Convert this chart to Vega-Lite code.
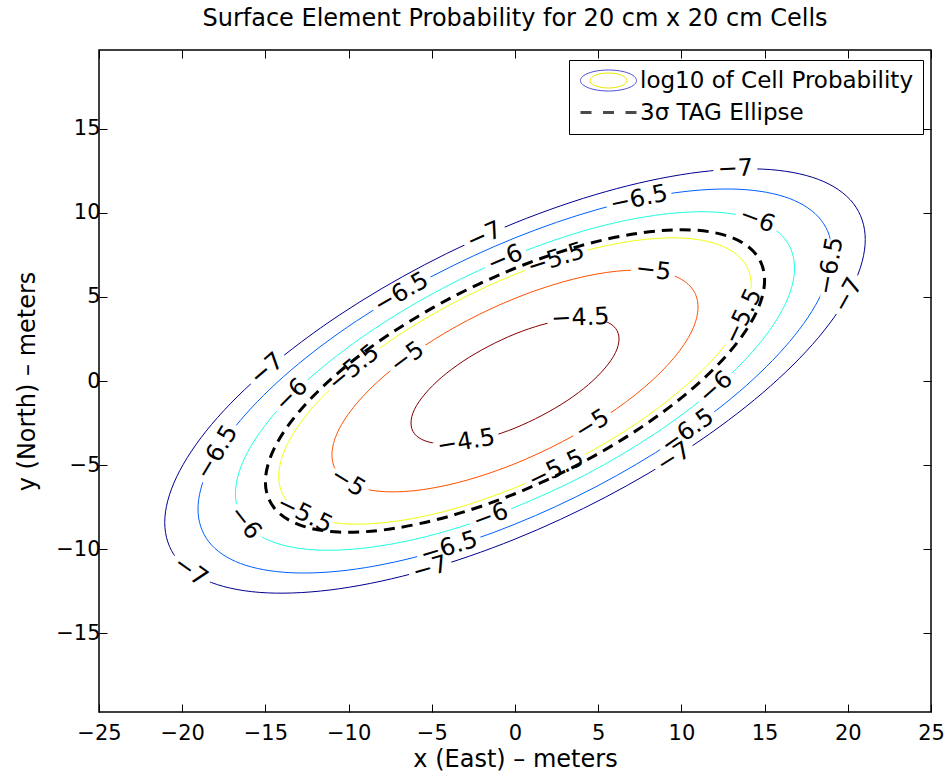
{
  "$schema": "https://vega.github.io/schema/vega-lite/v6.json",
  "width": 832,
  "height": 662,
  "autosize": {"type": "none"},
  "padding": {"left": 99, "top": 50, "right": 19, "bottom": 60},
  "background": "white",
  "config": {
    "font": "DejaVu Sans",
    "view": {"stroke": "#000", "strokeWidth": 1.5},
    "axis": {"grid": false, "domain": false, "tickColor": "#000", "tickWidth": 1, "labelFont": "DejaVu Sans", "labelFontSize": 21, "labelColor": "#000", "titleFont": "DejaVu Sans", "titleFontSize": 24, "titleFontWeight": "normal", "titleColor": "#000", "labelFlush": false, "labelOverlap": false},
    "legend": {"labelFont": "DejaVu Sans", "labelFontSize": 23, "labelColor": "#000"}
  },
  "title": {"text": "Surface Element Probability for 20 cm x 20 cm Cells", "font": "DejaVu Sans", "fontSize": 24, "fontWeight": "normal", "color": "#000", "frame": "group", "anchor": "middle", "baseline": "bottom", "offset": -5},
  "datasets": {
    "contours": [
      {"lvl":-7,"i":0,"x":21.05,"y":8.42},{"lvl":-7,"i":1,"x":20.33,"y":10.57},{"lvl":-7,"i":2,"x":18.23,"y":12.0},{"lvl":-7,"i":3,"x":14.89,"y":12.61},{"lvl":-7,"i":4,"x":10.53,"y":12.36},{"lvl":-7,"i":5,"x":5.45,"y":11.27},{"lvl":-7,"i":6,"x":0,"y":9.41},{"lvl":-7,"i":7,"x":-5.45,"y":6.91},{"lvl":-7,"i":8,"x":-10.53,"y":3.94},{"lvl":-7,"i":9,"x":-14.89,"y":0.7},{"lvl":-7,"i":10,"x":-18.23,"y":-2.58},{"lvl":-7,"i":11,"x":-20.33,"y":-5.7},{"lvl":-7,"i":12,"x":-21.05,"y":-8.42},{"lvl":-7,"i":13,"x":-20.33,"y":-10.57},{"lvl":-7,"i":14,"x":-18.23,"y":-12.0},{"lvl":-7,"i":15,"x":-14.89,"y":-12.61},{"lvl":-7,"i":16,"x":-10.53,"y":-12.36},{"lvl":-7,"i":17,"x":-5.45,"y":-11.27},{"lvl":-7,"i":18,"x":0,"y":-9.41},{"lvl":-7,"i":19,"x":5.45,"y":-6.91},{"lvl":-7,"i":20,"x":10.53,"y":-3.94},{"lvl":-7,"i":21,"x":14.89,"y":-0.7},{"lvl":-7,"i":22,"x":18.23,"y":2.58},{"lvl":-7,"i":23,"x":20.33,"y":5.7},
      {"lvl":-6.5,"i":0,"x":19.05,"y":7.62},{"lvl":-6.5,"i":1,"x":18.4,"y":9.57},{"lvl":-6.5,"i":2,"x":16.5,"y":10.86},{"lvl":-6.5,"i":3,"x":13.47,"y":11.41},{"lvl":-6.5,"i":4,"x":9.53,"y":11.19},{"lvl":-6.5,"i":5,"x":4.93,"y":10.2},{"lvl":-6.5,"i":6,"x":0,"y":8.52},{"lvl":-6.5,"i":7,"x":-4.93,"y":6.26},{"lvl":-6.5,"i":8,"x":-9.53,"y":3.57},{"lvl":-6.5,"i":9,"x":-13.47,"y":0.64},{"lvl":-6.5,"i":10,"x":-16.5,"y":-2.34},{"lvl":-6.5,"i":11,"x":-18.4,"y":-5.15},{"lvl":-6.5,"i":12,"x":-19.05,"y":-7.62},{"lvl":-6.5,"i":13,"x":-18.4,"y":-9.57},{"lvl":-6.5,"i":14,"x":-16.5,"y":-10.86},{"lvl":-6.5,"i":15,"x":-13.47,"y":-11.41},{"lvl":-6.5,"i":16,"x":-9.53,"y":-11.19},{"lvl":-6.5,"i":17,"x":-4.93,"y":-10.2},{"lvl":-6.5,"i":18,"x":0,"y":-8.52},{"lvl":-6.5,"i":19,"x":4.93,"y":-6.26},{"lvl":-6.5,"i":20,"x":9.53,"y":-3.57},{"lvl":-6.5,"i":21,"x":13.47,"y":-0.64},{"lvl":-6.5,"i":22,"x":16.5,"y":2.34},{"lvl":-6.5,"i":23,"x":18.4,"y":5.15},
      {"lvl":-6,"i":0,"x":16.8,"y":6.72},{"lvl":-6,"i":1,"x":16.23,"y":8.44},{"lvl":-6,"i":2,"x":14.55,"y":9.58},{"lvl":-6,"i":3,"x":11.88,"y":10.06},{"lvl":-6,"i":4,"x":8.4,"y":9.86},{"lvl":-6,"i":5,"x":4.35,"y":9.0},{"lvl":-6,"i":6,"x":0,"y":7.51},{"lvl":-6,"i":7,"x":-4.35,"y":5.52},{"lvl":-6,"i":8,"x":-8.4,"y":3.14},{"lvl":-6,"i":9,"x":-11.88,"y":0.56},{"lvl":-6,"i":10,"x":-14.55,"y":-2.06},{"lvl":-6,"i":11,"x":-16.23,"y":-4.55},{"lvl":-6,"i":12,"x":-16.8,"y":-6.72},{"lvl":-6,"i":13,"x":-16.23,"y":-8.44},{"lvl":-6,"i":14,"x":-14.55,"y":-9.58},{"lvl":-6,"i":15,"x":-11.88,"y":-10.06},{"lvl":-6,"i":16,"x":-8.4,"y":-9.86},{"lvl":-6,"i":17,"x":-4.35,"y":-9.0},{"lvl":-6,"i":18,"x":0,"y":-7.51},{"lvl":-6,"i":19,"x":4.35,"y":-5.52},{"lvl":-6,"i":20,"x":8.4,"y":-3.14},{"lvl":-6,"i":21,"x":11.88,"y":-0.56},{"lvl":-6,"i":22,"x":14.55,"y":2.06},{"lvl":-6,"i":23,"x":16.23,"y":4.55},
      {"lvl":-5.5,"i":0,"x":14.2,"y":5.68},{"lvl":-5.5,"i":1,"x":13.72,"y":7.13},{"lvl":-5.5,"i":2,"x":12.3,"y":8.09},{"lvl":-5.5,"i":3,"x":10.04,"y":8.51},{"lvl":-5.5,"i":4,"x":7.1,"y":8.34},{"lvl":-5.5,"i":5,"x":3.67,"y":7.61},{"lvl":-5.5,"i":6,"x":0,"y":6.35},{"lvl":-5.5,"i":7,"x":-3.67,"y":4.66},{"lvl":-5.5,"i":8,"x":-7.1,"y":2.66},{"lvl":-5.5,"i":9,"x":-10.04,"y":0.47},{"lvl":-5.5,"i":10,"x":-12.3,"y":-1.74},{"lvl":-5.5,"i":11,"x":-13.72,"y":-3.84},{"lvl":-5.5,"i":12,"x":-14.2,"y":-5.68},{"lvl":-5.5,"i":13,"x":-13.72,"y":-7.13},{"lvl":-5.5,"i":14,"x":-12.3,"y":-8.09},{"lvl":-5.5,"i":15,"x":-10.04,"y":-8.51},{"lvl":-5.5,"i":16,"x":-7.1,"y":-8.34},{"lvl":-5.5,"i":17,"x":-3.67,"y":-7.61},{"lvl":-5.5,"i":18,"x":0,"y":-6.35},{"lvl":-5.5,"i":19,"x":3.67,"y":-4.66},{"lvl":-5.5,"i":20,"x":7.1,"y":-2.66},{"lvl":-5.5,"i":21,"x":10.04,"y":-0.47},{"lvl":-5.5,"i":22,"x":12.3,"y":1.74},{"lvl":-5.5,"i":23,"x":13.72,"y":3.84},
      {"lvl":-5,"i":0,"x":11.0,"y":4.4},{"lvl":-5,"i":1,"x":10.63,"y":5.52},{"lvl":-5,"i":2,"x":9.53,"y":6.27},{"lvl":-5,"i":3,"x":7.78,"y":6.59},{"lvl":-5,"i":4,"x":5.5,"y":6.46},{"lvl":-5,"i":5,"x":2.85,"y":5.89},{"lvl":-5,"i":6,"x":0,"y":4.92},{"lvl":-5,"i":7,"x":-2.85,"y":3.61},{"lvl":-5,"i":8,"x":-5.5,"y":2.06},{"lvl":-5,"i":9,"x":-7.78,"y":0.37},{"lvl":-5,"i":10,"x":-9.53,"y":-1.35},{"lvl":-5,"i":11,"x":-10.63,"y":-2.98},{"lvl":-5,"i":12,"x":-11.0,"y":-4.4},{"lvl":-5,"i":13,"x":-10.63,"y":-5.52},{"lvl":-5,"i":14,"x":-9.53,"y":-6.27},{"lvl":-5,"i":15,"x":-7.78,"y":-6.59},{"lvl":-5,"i":16,"x":-5.5,"y":-6.46},{"lvl":-5,"i":17,"x":-2.85,"y":-5.89},{"lvl":-5,"i":18,"x":0,"y":-4.92},{"lvl":-5,"i":19,"x":2.85,"y":-3.61},{"lvl":-5,"i":20,"x":5.5,"y":-2.06},{"lvl":-5,"i":21,"x":7.78,"y":-0.37},{"lvl":-5,"i":22,"x":9.53,"y":1.35},{"lvl":-5,"i":23,"x":10.63,"y":2.98},
      {"lvl":-4.5,"i":0,"x":6.25,"y":2.5},{"lvl":-4.5,"i":1,"x":6.04,"y":3.14},{"lvl":-4.5,"i":2,"x":5.41,"y":3.56},{"lvl":-4.5,"i":3,"x":4.42,"y":3.74},{"lvl":-4.5,"i":4,"x":3.13,"y":3.67},{"lvl":-4.5,"i":5,"x":1.62,"y":3.35},{"lvl":-4.5,"i":6,"x":0,"y":2.8},{"lvl":-4.5,"i":7,"x":-1.62,"y":2.05},{"lvl":-4.5,"i":8,"x":-3.13,"y":1.17},{"lvl":-4.5,"i":9,"x":-4.42,"y":0.21},{"lvl":-4.5,"i":10,"x":-5.41,"y":-0.77},{"lvl":-4.5,"i":11,"x":-6.04,"y":-1.69},{"lvl":-4.5,"i":12,"x":-6.25,"y":-2.5},{"lvl":-4.5,"i":13,"x":-6.04,"y":-3.14},{"lvl":-4.5,"i":14,"x":-5.41,"y":-3.56},{"lvl":-4.5,"i":15,"x":-4.42,"y":-3.74},{"lvl":-4.5,"i":16,"x":-3.13,"y":-3.67},{"lvl":-4.5,"i":17,"x":-1.62,"y":-3.35},{"lvl":-4.5,"i":18,"x":0,"y":-2.8},{"lvl":-4.5,"i":19,"x":1.62,"y":-2.05},{"lvl":-4.5,"i":20,"x":3.13,"y":-1.17},{"lvl":-4.5,"i":21,"x":4.42,"y":-0.21},{"lvl":-4.5,"i":22,"x":5.41,"y":0.77},{"lvl":-4.5,"i":23,"x":6.04,"y":1.69}
    ],
    "tag": [
      {"i":0,"x":15.0,"y":6.0},{"i":1,"x":14.49,"y":7.53},{"i":2,"x":12.99,"y":8.55},{"i":3,"x":10.61,"y":8.99},{"i":4,"x":7.5,"y":8.81},{"i":5,"x":3.88,"y":8.03},{"i":6,"x":0,"y":6.71},{"i":7,"x":-3.88,"y":4.93},{"i":8,"x":-7.5,"y":2.81},{"i":9,"x":-10.61,"y":0.5},{"i":10,"x":-12.99,"y":-1.84},{"i":11,"x":-14.49,"y":-4.06},{"i":12,"x":-15.0,"y":-6.0},{"i":13,"x":-14.49,"y":-7.53},{"i":14,"x":-12.99,"y":-8.55},{"i":15,"x":-10.61,"y":-8.99},{"i":16,"x":-7.5,"y":-8.81},{"i":17,"x":-3.88,"y":-8.03},{"i":18,"x":0,"y":-6.71},{"i":19,"x":3.88,"y":-4.93},{"i":20,"x":7.5,"y":-2.81},{"i":21,"x":10.61,"y":-0.5},{"i":22,"x":12.99,"y":1.84},{"i":23,"x":14.49,"y":4.06}
    ],
    "labels": [
      {"lab":"−7","x":13.24,"y":12.61,"ang":-2.2},
      {"lab":"−7","x":-1.84,"y":8.64,"ang":-23.9},
      {"lab":"−7","x":-14.89,"y":0.7,"ang":-40.5},
      {"lab":"−7","x":20.02,"y":5.1,"ang":-60.9},
      {"lab":"−7","x":9.56,"y":-4.56,"ang":-32.4},
      {"lab":"−7","x":-5.09,"y":-11.17,"ang":-16.2},
      {"lab":"−7","x":-19.51,"y":-11.33,"ang":35.4},
      {"lab":"−6.5","x":7.45,"y":10.82,"ang":-12.0},
      {"lab":"−6.5","x":-6.82,"y":5.23,"ang":-30.0},
      {"lab":"−6.5","x":18.97,"y":6.85,"ang":-79.8},
      {"lab":"−6.5","x":10.38,"y":-2.99,"ang":-34.9},
      {"lab":"−6.5","x":-3.96,"y":-9.92,"ang":-17.1},
      {"lab":"−6.5","x":-17.9,"y":-4.25,"ang":-58.7},
      {"lab":"−6","x":14.55,"y":9.58,"ang":20.7},
      {"lab":"−6","x":-13.42,"y":-0.85,"ang":-45.1},
      {"lab":"−6","x":12.08,"y":-0.39,"ang":-41.1},
      {"lab":"−6","x":-1.46,"y":-8.07,"ang":-20.0},
      {"lab":"−6","x":-16.23,"y":-8.44,"ang":52.1},
      {"lab":"−6","x":-0.59,"y":7.27,"ang":-22.8},
      {"lab":"−5.5","x":2.47,"y":7.24,"ang":-18.0},
      {"lab":"−5.5","x":13.72,"y":3.84,"ang":-64.5},
      {"lab":"−5.5","x":2.47,"y":-5.27,"ang":-25.8},
      {"lab":"−5.5","x":-12.65,"y":-7.94,"ang":25.7},
      {"lab":"−5.5","x":-9.68,"y":0.77,"ang":-39.5},
      {"lab":"−5","x":8.31,"y":6.55,"ang":6.6},
      {"lab":"−5","x":-6.47,"y":1.39,"ang":-36.2},
      {"lab":"−5","x":4.65,"y":-2.6,"ang":-31.6},
      {"lab":"−5","x":-10.05,"y":-6.02,"ang":31.4},
      {"lab":"−4.5","x":3.93,"y":3.74,"ang":-2.2},
      {"lab":"−4.5","x":-2.93,"y":-3.64,"ang":-9.3}
    ],
    "legend": [{"ser": "log10 of Cell Probability", "m": "log10 of Cell Probability", "r": "log10 of Cell Probability"}]
  },
  "layer": [
    {
      "data": {"name": "contours"},
      "mark": {"type": "line", "interpolate": "cardinal-closed", "strokeWidth": 1},
      "encoding": {
        "x": {"field": "x", "type": "quantitative", "scale": {"domain": [-25, 25], "nice": false, "zero": false},
              "axis": {"orient": "bottom", "values": [-25, -20, -15, -10, -5, 0, 5, 10, 15, 20, 25], "title": "x (East) – meters", "tickSize": -8, "labelPadding": 18, "titlePadding": 4}},
        "y": {"field": "y", "type": "quantitative", "scale": {"domain": [-19.7, 19.7], "nice": false, "zero": false},
              "axis": {"orient": "left", "values": [-15, -10, -5, 0, 5, 10, 15], "title": "y (North) – meters", "tickSize": -8, "labelPadding": 7, "titlePadding": 16}},
        "detail": {"field": "lvl"},
        "order": {"field": "i", "type": "quantitative"},
        "color": {"field": "lvl", "type": "ordinal", "scale": {"domain": [-7, -6.5, -6, -5.5, -5, -4.5], "range": ["#00008F", "#0060FF", "#20FFDF", "#F0FF10", "#FF5000", "#800000"]}, "legend": null}
      }
    },
    {
      "data": {"name": "labels"},
      "transform": [{"filter": "length(datum.lab) <= 2"}],
      "mark": {"type": "point", "shape": "M-1,-0.22H1V0.22H-1Z", "size": 1936, "filled": true, "color": "#ffffff", "opacity": 1, "strokeWidth": 0},
      "encoding": {
        "x": {"field": "x", "type": "quantitative", "scale": {"domain": [-25, 25], "nice": false, "zero": false}, "axis": null},
        "y": {"field": "y", "type": "quantitative", "scale": {"domain": [-19.7, 19.7], "nice": false, "zero": false}, "axis": null},
        "angle": {"field": "ang", "type": "quantitative", "scale": null}
      }
    },
    {
      "data": {"name": "labels"},
      "transform": [{"filter": "length(datum.lab) > 2"}],
      "mark": {"type": "point", "shape": "M-1,-0.15H1V0.15H-1Z", "size": 4356, "filled": true, "color": "#ffffff", "opacity": 1, "strokeWidth": 0},
      "encoding": {
        "x": {"field": "x", "type": "quantitative", "scale": {"domain": [-25, 25], "nice": false, "zero": false}, "axis": null},
        "y": {"field": "y", "type": "quantitative", "scale": {"domain": [-19.7, 19.7], "nice": false, "zero": false}, "axis": null},
        "angle": {"field": "ang", "type": "quantitative", "scale": null}
      }
    },
    {
      "data": {"name": "labels"},
      "mark": {"type": "text", "font": "DejaVu Sans", "fontSize": 24, "align": "center", "baseline": "middle", "color": "#000"},
      "encoding": {
        "x": {"field": "x", "type": "quantitative", "scale": {"domain": [-25, 25], "nice": false, "zero": false}, "axis": null},
        "y": {"field": "y", "type": "quantitative", "scale": {"domain": [-19.7, 19.7], "nice": false, "zero": false}, "axis": null},
        "text": {"field": "lab"},
        "angle": {"field": "ang", "type": "quantitative", "scale": null}
      }
    },
    {
      "data": {"name": "tag"},
      "mark": {"type": "line", "interpolate": "cardinal-closed", "strokeWidth": 3, "strokeDash": [11, 7], "color": "#000"},
      "encoding": {
        "x": {"field": "x", "type": "quantitative", "scale": {"domain": [-25, 25], "nice": false, "zero": false},
              "axis": {"orient": "top", "values": [-25, -20, -15, -10, -5, 0, 5, 10, 15, 20, 25], "labels": false, "title": null, "tickSize": -8}},
        "y": {"field": "y", "type": "quantitative", "scale": {"domain": [-19.7, 19.7], "nice": false, "zero": false},
              "axis": {"orient": "right", "values": [-15, -10, -5, 0, 5, 10, 15], "labels": false, "title": null, "tickSize": -8}},
        "order": {"field": "i", "type": "quantitative"}
      }
    },
    {
      "data": {"name": "legend"},
      "transform": [{"filter": "datum.ser == 'none'"}],
      "mark": {"type": "point", "filled": false},
      "encoding": {
        "stroke": {"field": "ser", "type": "nominal",
          "scale": {"domain": ["log10 of Cell Probability", "3σ TAG Ellipse"], "range": ["#0000C0", "#000000"]},
          "legend": {"orient": "none", "legendX": 470, "legendY": 10, "title": null, "symbolSize": 400, "symbolFillColor": "transparent", "strokeColor": "#000", "fillColor": "#fff", "padding": 9, "rowPadding": 8, "symbolOffset": 19, "labelOffset": 20, "labelFontSize": 23, "labelLimit": 400}},
        "shape": {"field": "ser", "type": "nominal",
          "scale": {"domain": ["log10 of Cell Probability", "3σ TAG Ellipse"], "range": ["M2.8,0C2.8,0.58 1.546,1.05 0,1.05C-1.546,1.05 -2.8,0.58 -2.8,0C-2.8,-0.58 -1.546,-1.05 0,-1.05C1.546,-1.05 2.8,-0.58 2.8,0Z", "M-2.8,0H-1.7M-0.55,0H0.55M1.7,0H2.8"]},
          "legend": {"orient": "none", "legendX": 470, "legendY": 10, "title": null, "symbolSize": 400, "symbolFillColor": "transparent", "strokeColor": "#000", "fillColor": "#fff", "padding": 9, "rowPadding": 8, "symbolOffset": 19, "labelOffset": 20, "labelFontSize": 23, "labelLimit": 400}},
        "strokeWidth": {"field": "ser", "type": "nominal",
          "scale": {"domain": ["log10 of Cell Probability", "3σ TAG Ellipse"], "range": [1, 3]},
          "legend": {"orient": "none", "legendX": 470, "legendY": 10, "title": null, "symbolSize": 400, "symbolFillColor": "transparent", "strokeColor": "#000", "fillColor": "#fff", "padding": 9, "rowPadding": 8, "symbolOffset": 19, "labelOffset": 20, "labelFontSize": 23, "labelLimit": 400}},
        "opacity": {"field": "m", "type": "nominal",
          "scale": {"domain": ["log10 of Cell Probability"], "range": [1]},
          "legend": {"orient": "none", "legendX": 470, "legendY": 10, "title": null, "symbolSize": 400, "padding": 9, "rowPadding": 8, "symbolOffset": 19, "labelOffset": 20, "labelFontSize": 23, "labelOpacity": 0, "labelLimit": 400,
            "symbolType": "M1.85,0C1.85,0.414 1.022,0.75 0,0.75C-1.022,0.75 -1.85,0.414 -1.85,0C-1.85,-0.414 -1.022,-0.75 0,-0.75C1.022,-0.75 1.85,-0.414 1.85,0Z",
            "symbolStrokeColor": "#E8E800", "symbolFillColor": "transparent", "symbolStrokeWidth": 1}},
        "fillOpacity": {"field": "r", "type": "nominal",
          "scale": {"domain": ["log10 of Cell Probability"], "range": [1]},
          "legend": {"orient": "none", "legendX": 470, "legendY": 10, "title": null, "symbolSize": 400, "padding": 9, "rowPadding": 8, "symbolOffset": 19, "labelOffset": 20, "labelFontSize": 23, "labelOpacity": 0, "labelLimit": 400,
            "symbolType": "M0.95,0C0.95,0.232 0.525,0.42 0,0.42C-0.525,0.42 -0.95,0.232 -0.95,0C-0.95,-0.232 -0.525,-0.42 0,-0.42C0.525,-0.42 0.95,-0.232 0.95,0Z",
            "symbolStrokeColor": "#900000", "symbolFillColor": "transparent", "symbolStrokeWidth": 1}}
      }
    }
  ],
  "resolve": {"axis": {"x": "independent", "y": "independent"}}
}
